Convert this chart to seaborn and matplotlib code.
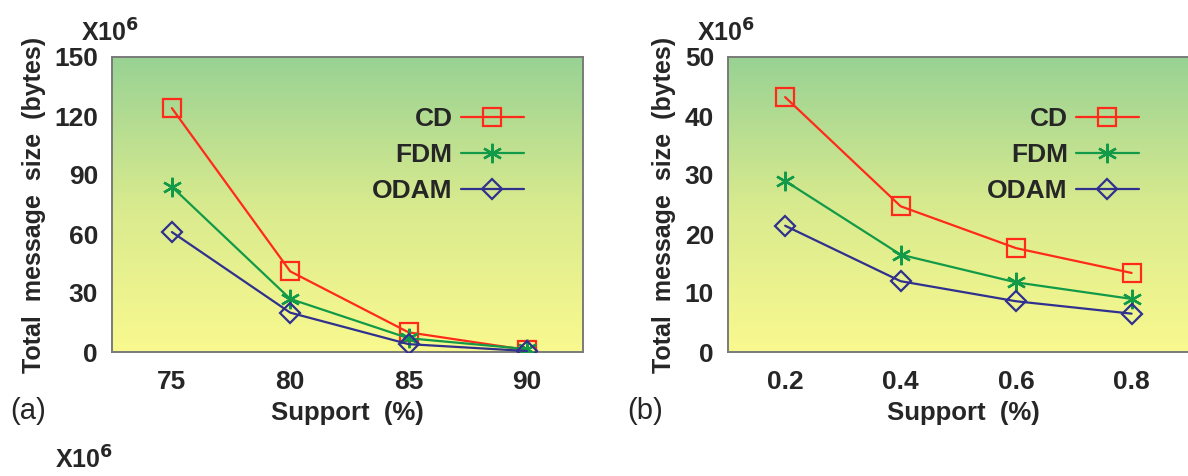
import numpy as np
import pandas as pd
import matplotlib.pyplot as plt
import seaborn as sns
from matplotlib.colors import LinearSegmentedColormap

support_a = [75, 80, 85, 90]
cd_a = [124, 41, 10, 1]
fdm_a = [84, 27, 7, 1.5]
odam_a = [61, 20, 4, 0.5]

support_b = [0.2, 0.4, 0.6, 0.8]
cd_b = [43.2, 24.7, 17.6, 13.4]
fdm_b = [29.0, 16.5, 11.8, 9.0]
odam_b = [21.4, 12.0, 8.6, 6.5]

sns.set_theme(style="white")
plt.rcParams['font.family'] = ['Liberation Sans', 'DejaVu Sans']
plt.rcParams['font.weight'] = 'bold'

series_style = {
    'CD': dict(color='#ff2a1a', marker='s', mfc='none', ms=13, mew=1.6),
    'FDM': dict(color='#129a48', marker=(6, 2, 0), ms=14, mew=1.7),
    'ODAM': dict(color='#30308e', marker='D', mfc='none', ms=10.5, mew=1.6),
}

bg = LinearSegmentedColormap.from_list('bg', ['#f9f98f', '#d8ea8e', '#98d294'])


def draw_panel(ax, x, cd, fdm, odam, yticks, ylim, xlim, tag):
    grad = np.linspace(0, 1, 256).reshape(-1, 1)
    ax.imshow(grad, extent=[0, 1, 0, 1], transform=ax.transAxes, cmap=bg,
              origin='lower', aspect='auto', zorder=0)
    for name, vals in [('CD', cd), ('FDM', fdm), ('ODAM', odam)]:
        st = series_style[name]
        sns.lineplot(x=x, y=vals, ax=ax, color=st['color'], lw=1.6, label=name,
                     marker=st['marker'], markersize=st['ms'],
                     markerfacecolor=st.get('mfc', st['color']),
                     markeredgecolor=st['color'], markeredgewidth=st['mew'],
                     zorder=3)
    ax.set_xlim(*xlim)
    ax.set_ylim(*ylim)
    ax.set_xticks(x)
    ax.set_xticklabels([str(v) for v in x])
    ax.set_yticks(yticks)
    ax.tick_params(axis='both', direction='out', length=6, width=1.2,
                   color='#808080', labelsize=19, pad=4)
    ax.tick_params(axis='x', pad=7)
    for s in ax.spines.values():
        s.set_color('#7a7a7a')
        s.set_linewidth(1.4)
    ax.set_xlabel('Support  (%)', fontsize=18.5, fontweight='bold', labelpad=5)
    ax.set_ylabel('Total  message  size  (bytes)', fontsize=18, fontweight='bold', labelpad=6)
    leg = ax.legend(loc='upper right', bbox_to_anchor=(0.925, 0.91), frameon=False,
                    markerfirst=False, fontsize=19, handlelength=2.4,
                    labelspacing=0.45, handletextpad=0.3)
    for t in leg.get_texts():
        t.set_fontweight('bold')
    for lab in ax.get_xticklabels() + ax.get_yticklabels():
        lab.set_fontweight('bold')
    ax.text(-0.215, -0.2, tag, transform=ax.transAxes, fontsize=21,
            fontweight='normal', va='center', ha='left')
    ax.text(-0.065, 1.035, 'X10$^6$', transform=ax.transAxes, fontsize=18,
            fontweight='bold', ha='left', va='bottom')


fig = plt.figure(figsize=(11.88, 4.76), dpi=100)
ax1 = fig.add_axes([112 / 1188, 1 - 352 / 476, 471 / 1188, 295 / 476])
ax2 = fig.add_axes([728 / 1188, 1 - 352 / 476, 470 / 1188, 295 / 476])

draw_panel(ax1, support_a, cd_a, fdm_a, odam_a, [0, 30, 60, 90, 120, 150],
           (0, 150), (72.47, 92.37), '(a)')
draw_panel(ax2, support_b, cd_b, fdm_b, odam_b, [0, 10, 20, 30, 40, 50],
           (0, 50), (0.101, 0.915), '(b)')

fig.text(55 / 1188, 2 / 476, 'X10$^6$', fontsize=18, fontweight='bold',
         ha='left', va='bottom')

fig.savefig('out.png', dpi=100)
